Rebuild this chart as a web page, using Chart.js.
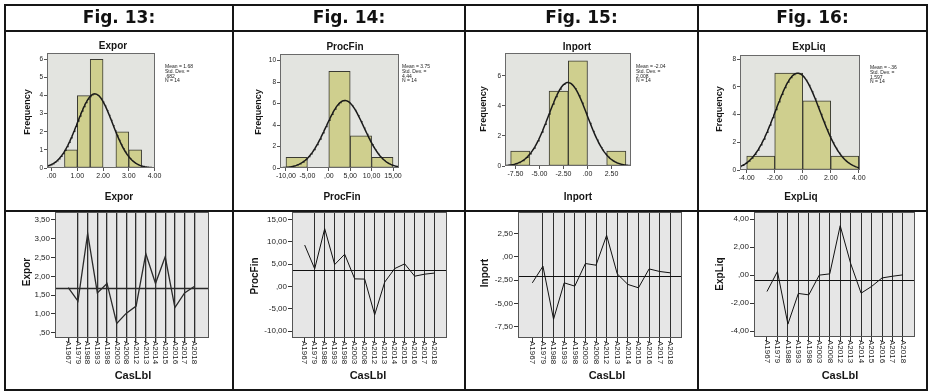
<!DOCTYPE html>
<html lang="en">
<head>
<meta charset="utf-8">
<title>Expor, ProcFin, Inport, ExpLiq</title>
<script src="https://cdn.jsdelivr.net/npm/chart.js@4.4.1/dist/chart.umd.min.js"></script>
<style>
  html, body { margin: 0; padding: 0; background: #fff; }
  #page { position: relative; width: 929px; height: 391px; overflow: hidden; background: #fff; }
  #page canvas { position: absolute; left: 0; top: 0; }
  #page canvas.soft { filter: blur(0.45px); }
  .rule { position: absolute; background: #161616; }
  .head { position: absolute; top: 7px; height: 24px; line-height: 24px; text-align: center;
          font: bold 17px "DejaVu Sans", Verdana, sans-serif; color: #111; }
</style>
</head>
<body>
<div id="page">
  <div class="head" style="left:6px;width:226px">Fig. 13:</div>
  <div class="head" style="left:234px;width:230px">Fig. 14:</div>
  <div class="head" style="left:466px;width:231px">Fig. 15:</div>
  <div class="head" style="left:699px;width:227px">Fig. 16:</div>

  <div class="rule" style="left:4px;top:4px;width:924px;height:2px"></div>
  <div class="rule" style="left:4px;top:30px;width:924px;height:2px"></div>
  <div class="rule" style="left:4px;top:210px;width:924px;height:2px"></div>
  <div class="rule" style="left:4px;top:389px;width:924px;height:2px"></div>
  <div class="rule" style="left:4px;top:4px;width:2px;height:387px"></div>
  <div class="rule" style="left:232px;top:4px;width:2px;height:387px"></div>
  <div class="rule" style="left:464px;top:4px;width:2px;height:387px"></div>
  <div class="rule" style="left:697px;top:4px;width:2px;height:387px"></div>
  <div class="rule" style="left:926px;top:4px;width:2px;height:387px"></div>
</div>
<script>
// ---- data ----
const variableNames = ['Expor', 'ProcFin', 'Inport', 'ExpLiq'];
const caseLabels = ['A1967', 'A1979', 'A1988', 'A1993', 'A1998', 'A2003', 'A2008',
                    'A2012', 'A2013', 'A2014', 'A2015', 'A2016', 'A2017', 'A2018'];

const exporValues   = [1.70, 1.34, 3.14, 1.56, 1.81, 0.75, 1.02, 1.21, 2.60, 1.81, 2.52, 1.17, 1.56, 1.73];
const procFinValues = [9.25, 3.95, 12.90, 4.90, 7.20, 1.70, 1.65, -6.30, 0.97, 4.00, 5.05, 2.30, 2.75, 3.00];
const inportValues  = [-2.79, -1.00, -6.70, -2.79, -3.14, -0.71, -0.89, 2.32, -1.82, -2.96, -3.32, -1.29, -1.57, -1.71];
const expLiqValues  = [-1.16, 0.27, -3.49, -1.30, -1.40, 0.01, 0.10, 3.54, 0.84, -1.28, -0.80, -0.19, -0.07, 0.03];

const exporBinEdges    = [0.5, 1.0, 1.5, 2.0, 2.5, 3.0, 3.5];
const exporBinCounts   = [1, 4, 6, 0, 2, 1];
const procFinBinEdges  = [-10, -5, 0, 5, 10, 15];
const procFinBinCounts = [1, 0, 9, 3, 1];
const inportBinEdges   = [-8, -6, -4, -2, 0, 2, 4];
const inportBinCounts  = [1, 0, 5, 7, 0, 1];
const expLiqBinEdges   = [-4, -2, 0, 2, 4];
const expLiqBinCounts  = [1, 7, 5, 1];

const statMeans   = [1.68, 3.75, -2.04, -0.36];
const statStdDevs = [0.682, 4.44, 2.008, 1.597];
const statN       = [14, 14, 14, 14];

const histXTicks = [[0, 1, 2, 3, 4], [-10, -5, 0, 5, 10, 15], [-7.5, -5, -2.5, 0, 2.5], [-4, -2, 0, 2, 4]];
const histYTicks = [[0, 1, 2, 3, 4, 5, 6], [0, 2, 4, 6, 8, 10], [0, 2, 4, 6], [0, 2, 4, 6, 8]];
const lineYTicks = [[0.5, 1, 1.5, 2, 2.5, 3, 3.5], [-10, -5, 0, 5, 10, 15], [-7.5, -5, -2.5, 0, 2.5], [-4, -2, 0, 2, 4]];
const histDecimalMarks = ['.', ',', '.', '.'];

// ---- layout (page pixels) ----
const PAGE_W = 929, PAGE_H = 391;
const histLayout = [
  { plot: { l: 47,  r: 155, t: 53, b: 168 }, x: [-0.18, 4.02], y: [0, 6.35],  title: [113, 46], xTitle: [119, 197], yTitle: [28, 112],  stats: [165, 67], soft: true },
  { plot: { l: 280, r: 399, t: 54, b: 168 }, x: [-11.4, 16.4], y: [0, 10.62], title: [345, 47], xTitle: [342, 197], yTitle: [259, 112], stats: [402, 67], soft: true },
  { plot: { l: 505, r: 631, t: 53, b: 166 }, x: [-8.59, 4.53], y: [0, 7.53],  title: [577, 47], xTitle: [578, 197], yTitle: [484, 109], stats: [636, 67], soft: true },
  { plot: { l: 740, r: 860, t: 55, b: 170 }, x: [-4.48, 4.09], y: [0, 8.31],  title: [809, 47], xTitle: [801, 197], yTitle: [720, 109], stats: [870, 68], soft: true }
];
const lineLayout = [
  { plot: { l: 55,  r: 209, t: 212, b: 338 }, x: [-1.37, 14.52], y: [0.36, 3.71],  xTitle: [133, 376], yTitle: [27, 272],  soft: true,  lw: 1.3, ink: '#2a2a2a' },
  { plot: { l: 292, r: 447, t: 212, b: 338 }, x: [-1.27, 14.23], y: [-11.5, 16.63], xTitle: [368, 376], yTitle: [255, 276], soft: false, lw: 1,   ink: '#111' },
  { plot: { l: 518, r: 682, t: 212, b: 338 }, x: [-1.35, 14.10], y: [-8.72, 4.83],  xTitle: [607, 376], yTitle: [485, 273], soft: false, lw: 1,   ink: '#111' },
  { plot: { l: 754, r: 915, t: 212, b: 337 }, x: [-1.24, 14.15], y: [-4.41, 4.52],  xTitle: [840, 376], yTitle: [720, 274], soft: false, lw: 1,   ink: '#111' }
];

const SANS = '"Liberation Sans", Arial, sans-serif';
const NARROW = '"Liberation Sans Narrow", "Liberation Sans", Arial, sans-serif';

function fmtDec(v, mark) {
  let s = Math.abs(v).toFixed(2);
  if (s.charAt(0) === '0') s = s.slice(1);
  return (v < 0 ? '-' : '') + s.replace('.', mark);
}
function fmtStat(v) {
  return (v < 0 ? '-' : '') + String(Math.abs(v)).replace(/^0(?=\.)/, '');
}

const page = document.getElementById('page');
function newCanvas(soft) {
  const c = document.createElement('canvas');
  c.width = PAGE_W; c.height = PAGE_H;
  if (soft) c.className = 'soft';
  page.insertBefore(c, page.firstChild);
  return c;
}

function drawText(ctx, text, x, y, font, rot) {
  ctx.save();
  ctx.font = font;
  ctx.fillStyle = '#151515';
  ctx.textAlign = 'center';
  ctx.textBaseline = 'middle';
  ctx.translate(x, y);
  if (rot) ctx.rotate(rot);
  ctx.fillText(text, 0, 0);
  ctx.restore();
}

function fixedTicks(values) {
  return s => { s.ticks = values.map(v => ({ value: v })); };
}

// ---- histogram with normal curve ----
function makeHistogram(i, edges, counts) {
  const L = histLayout[i];
  const mean = statMeans[i], sd = statStdDevs[i], n = statN[i];
  const binWidth = edges[1] - edges[0];
  const bars = counts.map((c, k) => ({ x: (edges[k] + edges[k + 1]) / 2, y: c }));
  const curve = [];
  const steps = 160;
  for (let k = 0; k <= steps; k++) {
    const x = L.x[0] + (L.x[1] - L.x[0]) * k / steps;
    const z = (x - mean) / sd;
    curve.push({ x: x, y: n * binWidth * Math.exp(-0.5 * z * z) / (sd * Math.sqrt(2 * Math.PI)) });
  }
  const mark = histDecimalMarks[i];
  const statLines = ['Mean = ' + fmtStat(mean), 'Std. Dev. =', fmtStat(sd), 'N = ' + n];

  new Chart(newCanvas(L.soft), {
    type: 'bar',
    data: {
      datasets: [
        { type: 'line', data: curve, borderColor: '#1a1a1a', borderWidth: 1.5, pointRadius: 0, tension: 0, order: 0 },
        { type: 'bar', data: bars, backgroundColor: '#cfcf8e', borderColor: '#3a3a32',
          borderWidth: c => (c.raw && c.raw.y > 0 ? 1 : 0), borderSkipped: false,
          barPercentage: 1, categoryPercentage: 1, order: 1 }
      ]
    },
    options: {
      responsive: false, animation: false, devicePixelRatio: 1,
      events: [],
      layout: { padding: { left: 0, top: L.plot.t, right: PAGE_W - L.plot.r, bottom: 0 } },
      plugins: { legend: { display: false }, tooltip: { enabled: false }, title: { display: false } },
      scales: {
        x: {
          type: 'linear', min: L.x[0], max: L.x[1], offset: false,
          afterFit: s => { s.height = PAGE_H - L.plot.b; },
          afterBuildTicks: fixedTicks(histXTicks[i]),
          ticks: { callback: v => fmtDec(v, mark), font: { family: NARROW, size: 7 }, color: '#222',
                   padding: 1, maxRotation: 0, minRotation: 0, autoSkip: false },
          grid: { drawOnChartArea: false, tickLength: 3, color: '#555', offset: false },
          border: { display: false }
        },
        y: {
          type: 'linear', min: L.y[0], max: L.y[1],
          afterFit: s => { s.width = L.plot.l; },
          afterBuildTicks: fixedTicks(histYTicks[i]),
          ticks: { callback: v => String(v), font: { family: NARROW, size: 6.5 }, color: '#222', padding: 1, autoSkip: false },
          grid: { drawOnChartArea: false, tickLength: 3, color: '#555' },
          border: { display: false }
        }
      }
    },
    plugins: [{
      id: 'histDecor',
      beforeDraw(chart) {
        const a = chart.chartArea, c = chart.ctx;
        c.save(); c.fillStyle = '#e3e4e0'; c.fillRect(a.left, a.top, a.right - a.left, a.bottom - a.top); c.restore();
      },
      afterDatasetsDraw(chart) {
        const a = chart.chartArea, c = chart.ctx;
        c.save(); c.strokeStyle = '#6a6a6a'; c.lineWidth = 1;
        c.strokeRect(a.left + 0.5, a.top + 0.5, a.right - a.left - 1, a.bottom - a.top - 1); c.restore();
      },
      afterDraw(chart) {
        const c = chart.ctx;
        drawText(c, variableNames[i], L.title[0], L.title[1], 'bold 10px ' + NARROW);
        drawText(c, variableNames[i], L.xTitle[0], L.xTitle[1], 'bold 10px ' + NARROW);
        drawText(c, 'Frequency', L.yTitle[0], L.yTitle[1], 'bold 9px ' + SANS, -Math.PI / 2);
        c.save();
        c.font = '5px ' + NARROW; c.fillStyle = '#222'; c.textAlign = 'left'; c.textBaseline = 'middle';
        statLines.forEach((t, k) => c.fillText(t, L.stats[0], L.stats[1] + k * 4.6));
        c.restore();
      }
    }]
  });
}

// ---- case sequence line chart with mean reference line ----
function makeSequence(i, values) {
  const L = lineLayout[i];
  const mean = statMeans[i];
  const points = values.map((v, k) => ({ x: k, y: v }));

  new Chart(newCanvas(L.soft), {
    type: 'line',
    data: { datasets: [{ data: points, borderColor: L.ink, borderWidth: L.lw, pointRadius: 0, tension: 0 }] },
    options: {
      responsive: false, animation: false, devicePixelRatio: 1,
      events: [],
      layout: { padding: { left: 0, top: L.plot.t, right: PAGE_W - L.plot.r, bottom: 0 } },
      plugins: { legend: { display: false }, tooltip: { enabled: false }, title: { display: false } },
      scales: {
        x: {
          type: 'linear', min: L.x[0], max: L.x[1], offset: false,
          afterFit: s => { s.height = PAGE_H - L.plot.b; },
          afterBuildTicks: fixedTicks(caseLabels.map((_, k) => k)),
          ticks: { display: false },
          grid: {
            drawOnChartArea: true, tickLength: 4, lineWidth: L.lw,
            color: c => (c.tick && c.tick.value === 0 ? 'rgba(0,0,0,0)' : '#2e2e2e'),
            tickColor: '#333'
          },
          border: { display: false }
        },
        y: {
          type: 'linear', min: L.y[0], max: L.y[1],
          afterFit: s => { s.width = L.plot.l; },
          afterBuildTicks: fixedTicks(lineYTicks[i]),
          ticks: { callback: v => fmtDec(v, ','), font: { family: NARROW, size: 8 }, color: '#222', padding: 1, autoSkip: false },
          grid: { drawOnChartArea: false, tickLength: 4, color: '#333' },
          border: { display: false }
        }
      }
    },
    plugins: [{
      id: 'sequenceDecor',
      beforeDraw(chart) {
        const a = chart.chartArea, c = chart.ctx;
        c.save(); c.fillStyle = '#e6e6e6'; c.fillRect(a.left, a.top, a.right - a.left, a.bottom - a.top); c.restore();
      },
      afterDatasetsDraw(chart) {
        const a = chart.chartArea, c = chart.ctx;
        const y = Math.round(chart.scales.y.getPixelForValue(mean)) + 0.5;
        c.save();
        c.strokeStyle = L.ink; c.lineWidth = L.lw;
        c.beginPath(); c.moveTo(a.left, y); c.lineTo(a.right, y); c.stroke();
        c.strokeStyle = '#555'; c.lineWidth = 1;
        c.strokeRect(a.left + 0.5, a.top + 0.5, a.right - a.left - 1, a.bottom - a.top - 1);
        c.restore();
      },
      afterDraw(chart) {
        const a = chart.chartArea, c = chart.ctx, xs = chart.scales.x;
        c.save();
        c.font = '8px ' + SANS; c.fillStyle = '#1a1a1a'; c.textAlign = 'left'; c.textBaseline = 'middle';
        caseLabels.forEach((lab, k) => {
          c.save();
          c.translate(xs.getPixelForValue(k), a.bottom + 3);
          c.rotate(Math.PI / 2);
          c.fillText(lab, 0, 0);
          c.restore();
        });
        c.restore();
        drawText(c, 'CasLbl', L.xTitle[0], L.xTitle[1], 'bold 11px ' + NARROW);
        drawText(c, variableNames[i], L.yTitle[0], L.yTitle[1], 'bold 10px ' + SANS, -Math.PI / 2);
      }
    }]
  });
}

makeHistogram(0, exporBinEdges, exporBinCounts);
makeHistogram(1, procFinBinEdges, procFinBinCounts);
makeHistogram(2, inportBinEdges, inportBinCounts);
makeHistogram(3, expLiqBinEdges, expLiqBinCounts);

makeSequence(0, exporValues);
makeSequence(1, procFinValues);
makeSequence(2, inportValues);
makeSequence(3, expLiqValues);
</script>
</body>
</html>
